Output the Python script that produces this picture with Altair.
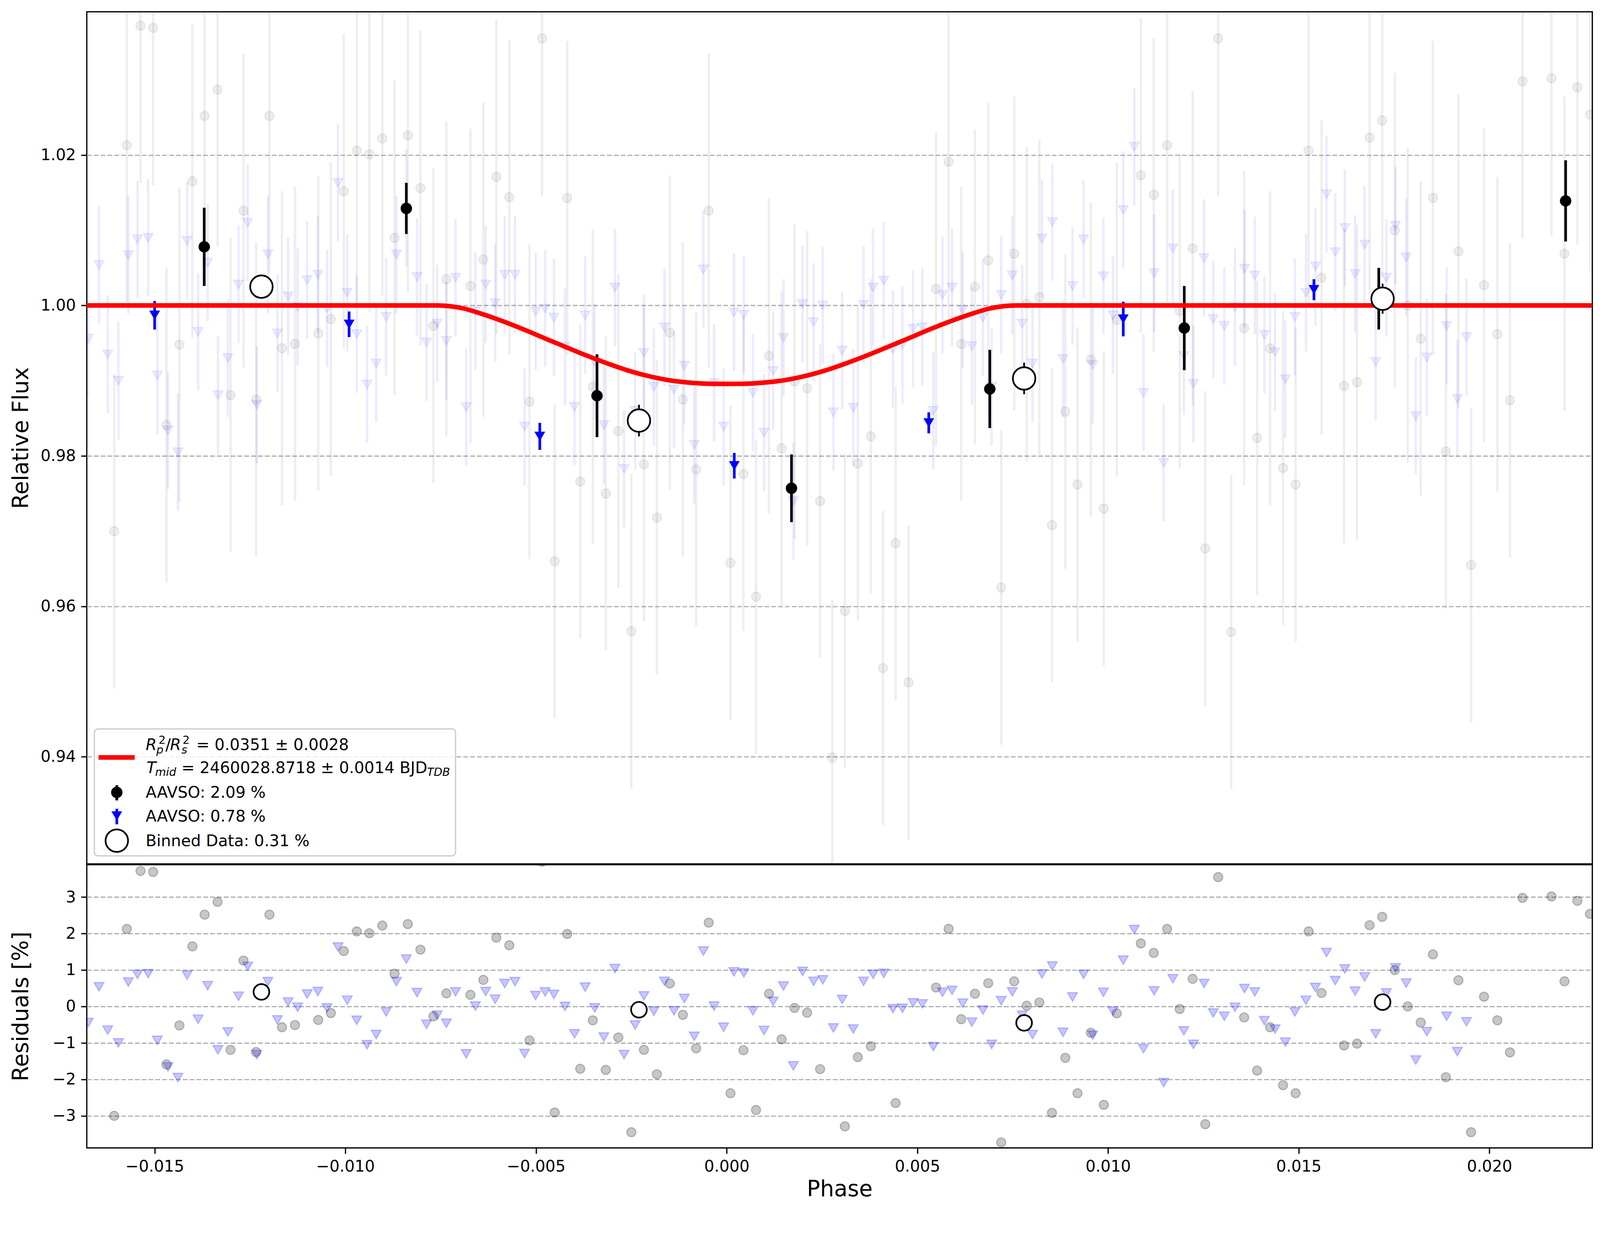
import altair as alt
import pandas as pd

# ---------------- data ----------------
# faint AAVSO series 1 (grey circles): phase, relative flux, residual [%]
gray_phase = [
    -0.01606, -0.01573, -0.01537, -0.01504, -0.01469, -0.01435, -0.01401, -0.01369, -0.01335, -0.01301, -0.01267, -0.01234, -0.01199, -0.01166, -0.01132, -0.01071, -0.01038, -0.01004, -0.00970, -0.00937, -0.00903, -0.00871, -0.00836, -0.00803, -0.00769, -0.00735,
    -0.00672, -0.00638, -0.00604, -0.00570, -0.00517, -0.00484, -0.00451, -0.00418, -0.00384, -0.00351, -0.00317, -0.00284, -0.00250, -0.00217, -0.00183, -0.00149, -0.00115, -0.00080, -0.00047, 0.00010, 0.00044, 0.00077, 0.00111, 0.00144, 0.00178, 0.00211, 0.00245, 0.00277, 0.00310,
    0.00344, 0.00378, 0.00410, 0.00443, 0.00477, 0.00549, 0.00582, 0.00615, 0.00651, 0.00686, 0.00720, 0.00754, 0.00787, 0.00820, 0.00853, 0.00888, 0.00920, 0.00955, 0.00989, 0.01023, 0.01086, 0.01120, 0.01155, 0.01188, 0.01222, 0.01255, 0.01289,
    0.01323, 0.01357, 0.01391, 0.01425, 0.01459, 0.01492, 0.01526, 0.01560, 0.01619, 0.01653, 0.01686, 0.01719, 0.01752, 0.01786, 0.01820, 0.01852, 0.01886, 0.01919, 0.01952, 0.01986, 0.02021, 0.02054, 0.02087, 0.02163, 0.02197, 0.02231, 0.02264,
]
gray_flux = [
    0.9700, 1.0213, 1.0372, 1.0369, 0.9841, 0.9948, 1.0165, 1.0252, 1.0287, 0.9881, 1.0126, 0.9875, 1.0252, 0.9943, 0.9949, 0.9963, 0.9982, 1.0152, 1.0206, 1.0201, 1.0222, 1.0090, 1.0226, 1.0156, 0.9973, 1.0035,
    1.0026, 1.0061, 1.0171, 1.0144, 0.9872, 1.0355, 0.9660, 1.0143, 0.9766, 0.9892, 0.9750, 0.9833, 0.9567, 0.9789, 0.9718, 0.9964, 0.9875, 0.9782, 1.0126, 0.9658, 0.9776, 0.9613, 0.9933, 0.9810, 0.9899, 0.9890, 0.9740, 0.9399, 0.9594,
    0.9790, 0.9826, 0.9518, 0.9684, 0.9499, 1.0022, 1.0191, 0.9949, 1.0025, 1.0060, 0.9625, 1.0069, 1.0002, 1.0011, 0.9708, 0.9859, 0.9762, 0.9928, 0.9730, 0.9981, 1.0173, 1.0147, 1.0213, 0.9993, 1.0076, 0.9677, 1.0355,
    0.9566, 0.9970, 0.9824, 0.9943, 0.9784, 0.9762, 1.0206, 1.0037, 0.9893, 0.9898, 1.0223, 1.0246, 1.0100, 1.0000, 0.9956, 1.0143, 0.9806, 1.0072, 0.9655, 1.0027, 0.9962, 0.9874, 1.0298, 1.0302, 1.0069, 1.0290, 1.0254,
]
gray_resid = [
    -3.00, 2.13, 3.72, 3.69, -1.59, -0.52, 1.65, 2.52, 2.87, -1.19, 1.26, -1.25, 2.52, -0.57, -0.51, -0.37, -0.18, 1.52, 2.06, 2.01, 2.22, 0.90, 2.26, 1.56, -0.27, 0.36,
    0.32, 0.73, 1.89, 1.68, -0.93, 3.97, -2.91, 1.99, -1.71, -0.38, -1.74, -0.85, -3.45, -1.19, -1.86, 0.63, -0.23, -1.15, 2.30, -2.38, -1.20, -2.84, 0.35, -0.90, -0.04, -0.17, -1.72, -5.19, -3.29,
    -1.39, -1.09, -4.24, -2.65, -4.57, 0.52, 2.13, -0.35, 0.35, 0.64, -3.73, 0.69, 0.02, 0.11, -2.92, -1.41, -2.38, -0.72, -2.70, -0.19, 1.73, 1.47, 2.13, -0.07, 0.76, -3.23, 3.55,
    -4.35, -0.30, -1.76, -0.57, -2.16, -2.38, 2.06, 0.37, -1.07, -1.02, 2.23, 2.46, 1.00, 0.00, -0.44, 1.43, -1.94, 0.72, -3.45, 0.27, -0.38, -1.26, 2.98, 3.02, 0.69, 2.90, 2.54,
]
gray_err = 0.0209

# faint AAVSO series 2 (blue triangles)
blue_phase = [
    -0.01674, -0.01646, -0.01623, -0.01595, -0.01569, -0.01545, -0.01517, -0.01493, -0.01465, -0.01439, -0.01415, -0.01386, -0.01361, -0.01334, -0.01308, -0.01280, -0.01256, -0.01232, -0.01203, -0.01178, -0.01150, -0.01125, -0.01100, -0.01072, -0.01048, -0.01019, -0.00995, -0.00970, -0.00943, -0.00919, -0.00893, -0.00866, -0.00840, -0.00812, -0.00787, -0.00759, -0.00735, -0.00711,
    -0.00683, -0.00659, -0.00632, -0.00607, -0.00582, -0.00555, -0.00530, -0.00501, -0.00476, -0.00453, -0.00424, -0.00399, -0.00371, -0.00346, -0.00322, -0.00293, -0.00269, -0.00240, -0.00217, -0.00191, -0.00163, -0.00138, -0.00111, -0.00085, -0.00061, -0.00033, -0.00008, 0.00019, 0.00045, 0.00069, 0.00098, 0.00122, 0.00149, 0.00175, 0.00199, 0.00228, 0.00252, 0.00280, 0.00303,
    0.00332, 0.00359, 0.00384, 0.00412, 0.00436, 0.00461, 0.00489, 0.00513, 0.00542, 0.00566, 0.00591, 0.00619, 0.00643, 0.00672, 0.00695, 0.00720, 0.00749, 0.00775, 0.00802, 0.00827, 0.00854, 0.00882, 0.00907, 0.00936, 0.00960, 0.00988, 0.01013, 0.01040, 0.01069, 0.01093, 0.01121, 0.01146, 0.01170, 0.01199, 0.01224, 0.01252, 0.01276,
    0.01305, 0.01333, 0.01358, 0.01385, 0.01410, 0.01438, 0.01465, 0.01490, 0.01519, 0.01544, 0.01573, 0.01596, 0.01621, 0.01648, 0.01673, 0.01702, 0.01730, 0.01754, 0.01782, 0.01807, 0.01836, 0.01888, 0.01916, 0.01940,
]
blue_flux = [
    0.9956, 1.0054, 0.9935, 0.9900, 1.0067, 1.0088, 1.0090, 0.9907, 0.9834, 0.9805, 1.0086, 0.9965, 1.0057, 0.9881, 0.9930, 1.0028, 1.0110, 0.9868, 1.0068, 0.9963, 1.0012, 0.9998, 1.0034, 1.0041, 0.9996, 1.0163, 1.0017, 0.9962, 0.9895, 0.9923, 0.9985, 1.0068, 1.0130, 1.0038, 0.9951, 0.9976, 0.9953, 1.0037,
    0.9865, 0.9992, 1.0028, 1.0003, 1.0041, 1.0041, 0.9839, 0.9992, 0.9996, 0.9984, 0.9945, 0.9865, 0.9987, 0.9925, 0.9841, 1.0024, 0.9783, 0.9860, 0.9937, 0.9892, 0.9971, 0.9888, 0.9920, 0.9815, 1.0048, 0.9897, 0.9839, 0.9991, 0.9988, 0.9884, 0.9831, 0.9913, 0.9957, 0.9740, 1.0002, 0.9978, 1.0000, 0.9858, 0.9940,
    0.9864, 1.0001, 1.0024, 1.0033, 0.9942, 0.9948, 0.9969, 0.9971, 0.9860, 1.0014, 1.0024, 0.9994, 0.9946, 0.9984, 0.9892, 1.0014, 1.0040, 0.9976, 0.9923, 1.0089, 1.0111, 0.9929, 1.0026, 1.0088, 0.9921, 1.0039, 0.9987, 1.0127, 1.0211, 0.9884, 1.0043, 0.9791, 1.0076, 0.9933, 0.9896, 1.0063, 0.9982,
    0.9973, 0.9998, 1.0049, 1.0040, 0.9961, 0.9938, 0.9902, 0.9985, 1.0017, 1.0052, 1.0148, 1.0071, 1.0103, 1.0042, 1.0081, 0.9925, 1.0037, 1.0106, 1.0064, 0.9853, 0.9931, 0.9973, 0.9876, 0.9958,
]
blue_resid = [
    -0.44, 0.54, -0.65, -1.00, 0.67, 0.88, 0.90, -0.93, -1.66, -1.95, 0.86, -0.35, 0.57, -1.19, -0.70, 0.28, 1.10, -1.32, 0.68, -0.37, 0.12, -0.02, 0.34, 0.41, -0.04, 1.63, 0.17, -0.38, -1.05, -0.77, -0.15, 0.68, 1.30, 0.38, -0.49, -0.24, -0.46, 0.40,
    -1.30, 0.01, 0.41, 0.20, 0.63, 0.68, -1.29, 0.30, 0.40, 0.33, 0.00, -0.75, 0.53, -0.04, -0.84, 1.04, -1.32, -0.51, 0.29, -0.13, 0.69, -0.12, 0.22, -0.82, 1.52, 0.01, -0.57, 0.95, 0.92, -0.12, -0.66, 0.14, 0.56, -1.63, 0.96, 0.69, 0.73, -0.59, 0.19,
    -0.62, 0.69, 0.88, 0.91, -0.06, -0.05, 0.10, 0.07, -1.10, 0.39, 0.44, 0.09, -0.43, -0.10, -1.04, 0.16, 0.40, -0.24, -0.77, 0.89, 1.11, -0.71, 0.26, 0.88, -0.79, 0.39, -0.13, 1.27, 2.11, -1.16, 0.43, -2.09, 0.76, -0.67, -1.04, 0.63, -0.18,
    -0.27, -0.02, 0.49, 0.40, -0.39, -0.62, -0.98, -0.15, 0.17, 0.52, 1.48, 0.71, 1.03, 0.42, 0.81, -0.75, 0.37, 1.06, 0.64, -1.47, -0.69, -0.27, -1.24, -0.42,
]
blue_err = 0.0078

# transit model curve (red)
model_phase = [-0.0168, -0.0076, -0.0069, -0.0064, -0.00585, -0.0053, -0.00477, -0.00423, -0.00369, -0.00315,
               -0.00261, -0.00207, -0.00153, -0.00098, -0.00044, 0.0, 0.00044, 0.00098, 0.00153, 0.00207,
               0.00261, 0.00315, 0.00369, 0.00423, 0.00477, 0.0053, 0.00585, 0.0064, 0.0069, 0.0076, 0.0227]
model_flux = [1.0, 1.0, 0.9996, 0.99885, 0.99787, 0.99677, 0.99563, 0.9945, 0.99338, 0.99234,
              0.9914, 0.99064, 0.99008, 0.98975, 0.98959, 0.98958, 0.98959, 0.98975, 0.99008, 0.99064,
              0.9914, 0.99234, 0.99338, 0.9945, 0.99563, 0.99677, 0.99787, 0.99885, 0.9996, 1.0, 1.0]

# binned series 1 (black circles)
bk_phase = [-0.0137, -0.0084, -0.0034, 0.0017, 0.0069, 0.0120, 0.0171, 0.0220]
bk_flux = [1.0078, 1.0129, 0.9880, 0.9757, 0.9889, 0.9970, 1.0009, 1.0139]
bk_err = [0.0052, 0.0034, 0.0055, 0.0045, 0.0052, 0.0056, 0.0041, 0.0054]

# binned series 2 (blue triangles)
bb_phase = [-0.0150, -0.0099, -0.0049, 0.0002, 0.0053, 0.0104, 0.0154]
bb_flux = [0.9987, 0.9975, 0.9826, 0.9787, 0.9844, 0.9982, 1.0021]
bb_err = [0.0019, 0.0017, 0.0018, 0.0017, 0.0014, 0.0023, 0.0014]

# binned combined data (open circles)
ob_phase = [-0.0122, -0.0023, 0.0078, 0.0172]
ob_flux = [1.0025, 0.9847, 0.9903, 1.0009]
ob_err = [0.0016, 0.0021, 0.0021, 0.0020]
ob_resid = [0.40, -0.09, -0.45, 0.12]

x_ticks = [-0.015, -0.010, -0.005, 0.000, 0.005, 0.010, 0.015, 0.020]
flux_ticks = [0.94, 0.96, 0.98, 1.00, 1.02]
resid_ticks = [-3, -2, -1, 0, 1, 2, 3]

leg_fit_line1 = "= 0.0351 ± 0.0028"
leg_fit_line2 = "= 2460028.8718 ± 0.0014 BJD"
leg_labels = ["AAVSO: 2.09 %", "AAVSO: 0.78 %", "Binned Data: 0.31 %"]

# ---------------- tables ----------------
n = min(len(gray_phase), len(gray_flux), len(gray_resid))
gray = pd.DataFrame({"phase": gray_phase[:n], "flux": gray_flux[:n], "resid": gray_resid[:n]})
gray["lo"] = gray["flux"] - gray_err
gray["hi"] = gray["flux"] + gray_err

m = min(len(blue_phase), len(blue_flux), len(blue_resid))
blue = pd.DataFrame({"phase": blue_phase[:m], "flux": blue_flux[:m], "resid": blue_resid[:m]})
blue["lo"] = blue["flux"] - blue_err
blue["hi"] = blue["flux"] + blue_err

model = pd.DataFrame({"phase": model_phase, "flux": model_flux})

bk = pd.DataFrame({"phase": bk_phase, "flux": bk_flux, "err": bk_err})
bk["lo"] = bk["flux"] - bk["err"]
bk["hi"] = bk["flux"] + bk["err"]
bb = pd.DataFrame({"phase": bb_phase, "flux": bb_flux, "err": bb_err})
bb["lo"] = bb["flux"] - bb["err"]
bb["hi"] = bb["flux"] + bb["err"]
ob = pd.DataFrame({"phase": ob_phase, "flux": ob_flux, "err": ob_err, "resid": ob_resid})
ob["lo"] = ob["flux"] - ob["err"]
ob["hi"] = ob["flux"] + ob["err"]

one = pd.DataFrame({"k": [0]})

# ---------------- styling ----------------
FONT = "DejaVu Sans"
W = 3960
H_TOP = 2241
H_BOT = 745
X_DOMAIN = [-0.01678, 0.0227]
FLUX_DOMAIN = [0.92577, 1.03904]
RES_DOMAIN = [-3.881, 3.892]

common_axis = dict(
    tickSize=15, tickWidth=3.3, tickColor="black",
    labelFont=FONT, labelFontSize=41.7, labelColor="black", labelPadding=14,
    domain=False,
    titleFont=FONT, titleFontSize=58, titleFontWeight="normal", titleColor="black",
)
grid_style = dict(grid=True, gridDash=[12.5, 5.5], gridColor="#ababab", gridWidth=3)

x_scale = alt.Scale(domain=X_DOMAIN, nice=False, zero=False)
ytop_scale = alt.Scale(domain=FLUX_DOMAIN, nice=False, zero=False)
ybot_scale = alt.Scale(domain=RES_DOMAIN, nice=False, zero=False)

ytop_axis = alt.Axis(values=flux_ticks, format=".2f", title="Relative Flux",
                     titleAngle=270, titleX=-172, titleY=H_TOP / 2,
                     titleAlign="center", titleBaseline="middle",
                     **grid_style, **common_axis)
ybot_axis = alt.Axis(values=resid_ticks, format="d", title="Residuals [%]",
                     titleAngle=270, titleX=-172, titleY=H_BOT / 2,
                     titleAlign="center", titleBaseline="middle",
                     **grid_style, **common_axis)
xbot_axis = alt.Axis(values=x_ticks, format=".3f", title="Phase", grid=False,
                     titlePadding=10, **common_axis)

XT = alt.X("phase:Q", scale=x_scale, axis=None)
XB = alt.X("phase:Q", scale=x_scale, axis=xbot_axis)


def YT(field):
    return alt.Y(f"{field}:Q", scale=ytop_scale, axis=ytop_axis)


YB = alt.Y("resid:Q", scale=ybot_scale, axis=ybot_axis)

# ---------------- top panel ----------------
gray_bars = alt.Chart(gray).mark_rule(color="black", strokeOpacity=0.065, strokeWidth=6.25, clip=True).encode(
    x=XT, y=YT("lo"), y2="hi")
gray_pts = alt.Chart(gray).mark_point(shape="circle", filled=True, fill="black", stroke="black",
                                      fillOpacity=0.068, strokeOpacity=0.068, opacity=1,
                                      strokeWidth=3, size=576, clip=True).encode(x=XT, y=YT("flux"))
blue_bars = alt.Chart(blue).mark_rule(color="blue", strokeOpacity=0.08, strokeWidth=6.25, clip=True).encode(
    x=XT, y=YT("lo"), y2="hi")
blue_pts = alt.Chart(blue).mark_point(shape="triangle-down", filled=True, fill="blue", stroke="blue",
                                      fillOpacity=0.075, strokeOpacity=0.075, opacity=1,
                                      strokeWidth=3, size=690, clip=True).encode(x=XT, y=YT("flux"))

bk_bars = alt.Chart(bk).mark_rule(color="black", strokeWidth=7, clip=True).encode(x=XT, y=YT("lo"), y2="hi")
bk_pts = alt.Chart(bk).mark_point(shape="circle", filled=True, color="black", opacity=1, size=900,
                                  clip=True).encode(x=XT, y=YT("flux"))
bb_bars = alt.Chart(bb).mark_rule(color="blue", strokeWidth=7, clip=True).encode(x=XT, y=YT("lo"), y2="hi")
bb_pts = alt.Chart(bb).mark_point(shape="triangle-down", filled=True, color="blue", opacity=1, size=800,
                                  clip=True).encode(x=XT, y=YT("flux"))

model_line = alt.Chart(model).mark_line(color="#ff0000", strokeWidth=12, interpolate="monotone",
                                        clip=True).encode(x=XT, y=YT("flux"))

ob_bars = alt.Chart(ob).mark_rule(color="black", strokeWidth=4.5, clip=True).encode(x=XT, y=YT("lo"), y2="hi")
ob_pts = alt.Chart(ob).mark_point(shape="circle", filled=True, fill="white", stroke="black", opacity=1,
                                  strokeWidth=4.5, size=3500, clip=True).encode(x=XT, y=YT("flux"))


# legend (drawn in plot-area pixels)
def txt(s, x, y, size=41.7, style="normal"):
    return alt.Chart(one).mark_text(text=s, align="left", baseline="alphabetic", font=FONT,
                                    fontSize=size, fontStyle=style, color="black").encode(
        x=alt.value(x), y=alt.value(y))


SUB = 29.2
leg_box = alt.Chart(one).mark_rect(fill="white", fillOpacity=0.8, stroke="#cccccc", strokeWidth=3.3,
                                   cornerRadius=10).encode(
    x=alt.value(20), x2=alt.value(970), y=alt.value(1886), y2=alt.value(2220))
leg_red = alt.Chart(one).mark_rule(color="#ff0000", strokeWidth=12).encode(
    x=alt.value(31), x2=alt.value(126), y=alt.value(1961))
leg_parts = [
    txt("R", 155, 1942, style="italic"),
    txt("2", 189, 1925, size=SUB),
    txt("p", 183, 1951, size=SUB, style="italic"),
    txt("/", 207, 1942),
    txt("R", 219, 1942, style="italic"),
    txt("2", 252, 1925, size=SUB),
    txt("s", 249, 1951, size=SUB, style="italic"),
    txt(leg_fit_line1, 288, 1942),
    txt("T", 157, 2002, style="italic"),
    txt("mid", 180, 2009, size=SUB, style="italic"),
    txt(leg_fit_line2, 249, 2002),
    txt("TDB", 895, 2009, size=SUB, style="italic"),
    txt(leg_labels[0], 155, 2067),
    txt(leg_labels[1], 155, 2130),
    txt(leg_labels[2], 155, 2194),
]
leg_bk_bar = alt.Chart(one).mark_rule(color="black", strokeWidth=7).encode(
    x=alt.value(79), y=alt.value(2034), y2=alt.value(2074))
leg_bk_pt = alt.Chart(one).mark_point(shape="circle", filled=True, color="black", opacity=1, size=900).encode(
    x=alt.value(79), y=alt.value(2053))
leg_bb_bar = alt.Chart(one).mark_rule(color="blue", strokeWidth=7).encode(
    x=alt.value(79), y=alt.value(2096), y2=alt.value(2137))
leg_bb_pt = alt.Chart(one).mark_point(shape="triangle-down", filled=True, color="blue", opacity=1, size=800).encode(
    x=alt.value(79), y=alt.value(2115))
leg_ob_pt = alt.Chart(one).mark_point(shape="circle", filled=True, fill="white", stroke="black", opacity=1,
                                      strokeWidth=4.5, size=3500).encode(x=alt.value(79), y=alt.value(2180))

top = alt.layer(
    gray_bars, gray_pts, blue_bars, blue_pts,
    bk_bars, bk_pts, bb_bars, bb_pts,
    model_line, ob_bars, ob_pts,
    leg_box, leg_red, *leg_parts, leg_bk_bar, leg_bk_pt, leg_bb_bar, leg_bb_pt, leg_ob_pt,
).properties(width=W, height=H_TOP)

# ---------------- residual panel ----------------
gray_res = alt.Chart(gray).mark_point(shape="circle", filled=True, fill="black", stroke="black",
                                      fillOpacity=0.22, strokeOpacity=0.22, opacity=1,
                                      strokeWidth=3, size=576, clip=True).encode(x=XB, y=YB)
blue_res = alt.Chart(blue).mark_point(shape="triangle-down", filled=True, fill="blue", stroke="blue",
                                      fillOpacity=0.22, strokeOpacity=0.22, opacity=1,
                                      strokeWidth=3, size=690, clip=True).encode(x=XB, y=YB)
ob_res = alt.Chart(ob).mark_point(shape="circle", filled=True, fill="white", stroke="black", opacity=1,
                                  strokeWidth=4.5, size=1700, clip=True).encode(x=XB, y=YB)

bottom = alt.layer(gray_res, blue_res, ob_res).properties(width=W, height=H_BOT)

chart = alt.vconcat(top, bottom, spacing=-3).properties(
    padding={"left": 17, "top": -22, "right": 10, "bottom": 10}
).configure(font=FONT).configure_view(stroke="black", strokeWidth=3.3)

chart.save("out.html", embed_options={"renderer": "svg", "actions": False})
